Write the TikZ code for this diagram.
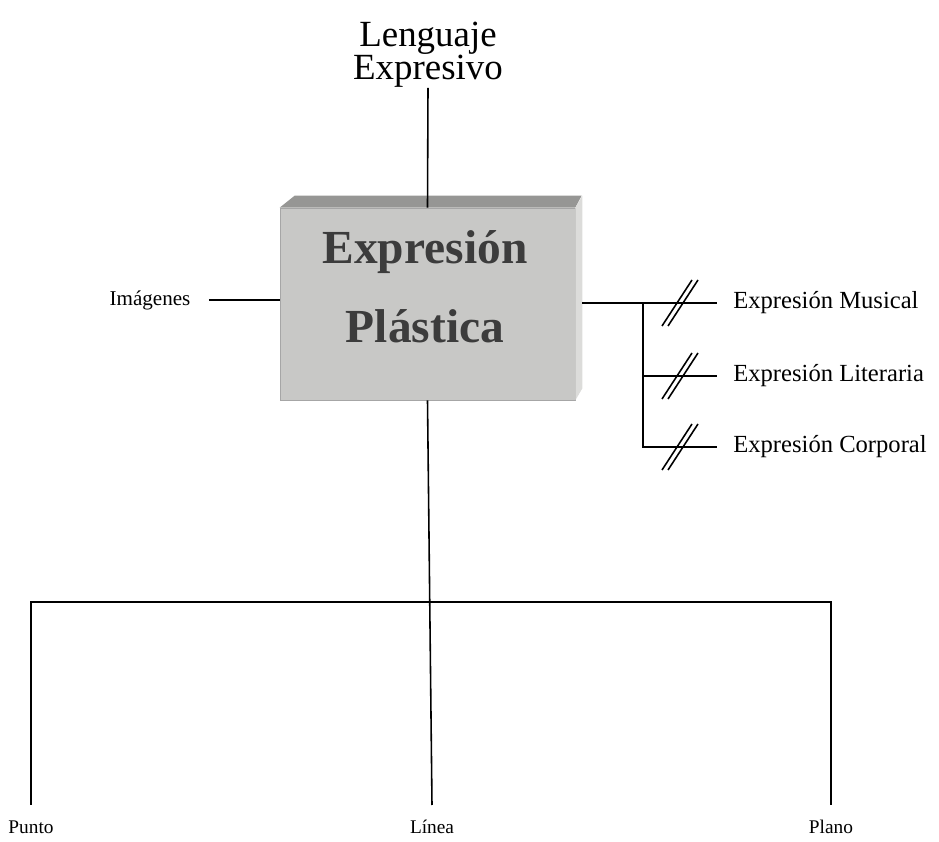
\documentclass[tikz,border=0pt]{standalone}
\usepackage{fontspec}
\setmainfont{Liberation Serif}
\usetikzlibrary{positioning}
\definecolor{cajafrente}{RGB}{200,200,198}
\definecolor{cajatapa}{RGB}{150,150,148}
\definecolor{cajalado}{RGB}{220,220,218}
\definecolor{cajatexto}{RGB}{60,60,60}

\begin{document}
\begin{tikzpicture}[
  linea/.style={line width=0.9pt},
  barra/.style={line width=1.4pt},
  rama/.style={font=\fontsize{14}{16}\selectfont, anchor=west, inner xsep=0.32cm, inner ysep=0},
  hoja/.style={font=\fontsize{11}{13}\selectfont, anchor=north, inner xsep=0, inner ysep=0.28cm, text height=8pt, text depth=2pt},
  caja/.style={draw=gray!70, fill=cajafrente, minimum width=5.9cm, minimum height=3.84cm, inner sep=0}
]
\useasboundingbox (0,0) rectangle (18.78,-16.84);
\node[caja] (caja) at (8.55,-6.08) {};
\fill[cajatapa] (caja.north west) -- ++(0.3,0.24) -- ++(5.74,0) -- ([xshift=0cm]caja.north east) -- cycle;
\fill[cajalado] (caja.north east) -- ++(0.14,0.24) -- ([shift={(0.14,0.24)}]caja.south east) -- (caja.south east) -- cycle;
\node[text=cajatexto, font=\fontsize{27}{45}\bfseries, align=center] (titulo) at (8.5,-5.74) {Expresión\\Plástica};
\node[font=\fontsize{21}{19}\selectfont, align=center, inner sep=0, anchor=south] (lenguaje) at (8.56,-1.76) {Lenguaje\\Expresivo};
\draw[linea] (lenguaje.south) -- (caja.north);
\node[font=\fontsize{12}{14}\selectfont, inner xsep=0.36cm] (imagenes) at (3.0,-6.0) {Imágenes};
\draw[linea] (imagenes.east) -- (imagenes.east -| caja.west);
\node[rama] (musical) at (14.34,-6.06) {Expresión Musical};
\node[rama] (literaria) at (14.34,-7.52) {Expresión Literaria};
\node[rama] (corporal) at (14.34,-8.94) {Expresión Corporal};
\coordinate (nudo) at (12.86,-6.06);
\draw[linea] ([xshift=0.14cm]caja.east |- musical) -- (musical.west);
\draw[linea] (nudo) |- (corporal.west);
\draw[linea] (nudo |- literaria) -- (literaria.west);
\foreach \n in {musical,literaria,corporal} {
  \draw[linea] ([xshift=-0.8cm]\n.west) ++(-0.3,-0.46) -- ++(0.6,0.92);
  \draw[linea] ([xshift=-0.68cm]\n.west) ++(-0.3,-0.46) -- ++(0.6,0.92);
}
\node[hoja] (punto) at (0.62,-16.1) {Punto};
\node[hoja] (linea) at (8.64,-16.1) {Línea};
\node[hoja] (plano) at (16.62,-16.1) {Plano};
\coordinate (cruce) at (8.6,-12.04);
\draw[linea] (caja.south) -- (linea.north);
\draw[linea] (punto.north) -- (punto.north |- cruce);
\draw[linea] (plano.north) -- (plano.north |- cruce);
\draw[barra] ([xshift=-0.45pt]punto.north |- cruce) -- ([xshift=0.45pt]plano.north |- cruce);
\end{tikzpicture}
\end{document}
